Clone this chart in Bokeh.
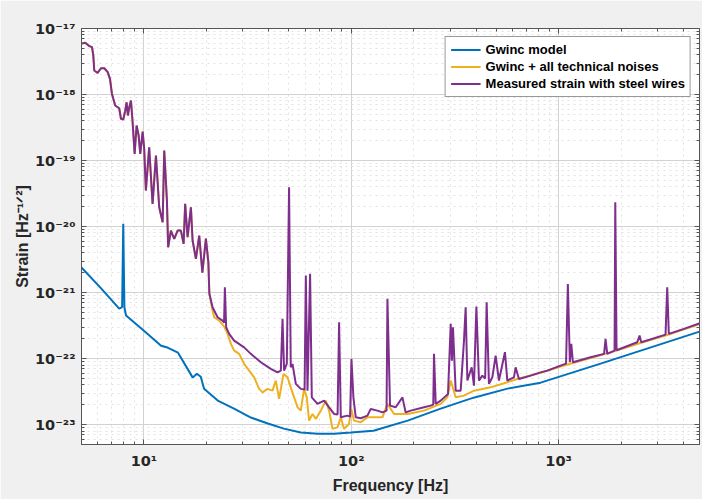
from bokeh.plotting import figure
from bokeh.models import (LogAxis, FixedTicker, CustomJSTickFormatter, Legend,
                          LegendItem, Range1d)
from bokeh.embed import file_html
from bokeh.resources import INLINE

# ---------------- data ----------------
blue_f = [5.0, 6.2, 7.6, 7.85, 7.95, 8.05, 8.2, 10.0, 12.1, 13.0, 14.6, 17.2, 18.0,
          18.8, 19.5, 22.7, 27.2, 32.8, 39.6, 47.3, 57.1, 69, 82.5, 99.5, 128, 187,
          270, 389, 567, 819, 1594, 4780]
blue_h = [2.4e-21, 1.17e-21, 5.7e-22, 6.0e-22, 1.1e-20, 6.0e-22, 4.5e-22, 2.65e-22,
          1.57e-22, 1.47e-22, 1.23e-22, 5.15e-23, 5.9e-23, 5.3e-23, 3.5e-23, 2.31e-23,
          1.75e-23, 1.28e-23, 1.04e-23, 8.7e-24, 7.6e-24, 7.3e-24, 7.3e-24, 7.6e-24,
          8.1e-24, 1.15e-23, 1.75e-23, 2.56e-23, 3.51e-23, 4.32e-23, 8.4e-23, 2.56e-22]

purple_f = [5.0, 5.21, 5.46, 5.62, 5.70, 5.76, 5.98, 6.21, 6.44, 6.69, 6.86, 7.01, 7.27,
            7.60, 7.75, 7.95, 8.13, 8.25, 8.37, 8.50, 8.66, 8.82, 9.02, 9.22, 9.43, 9.60,
            9.86, 10.03, 10.22, 10.60, 11.01, 11.43, 11.85, 12.31, 12.53, 12.91, 13.09,
            13.49, 14.00, 14.54, 15.08, 15.54, 15.81, 16.24, 16.85, 17.17, 17.81, 18.48,
            19.14, 19.90, 20.46, 20.68,
            21.43, 22.66, 23.95, 24.35, 24.57, 24.93, 25.77, 27.24, 30.43, 32.78, 36.63,
            40.93, 44.09, 45.74, 46.61, 47.44, 48.88, 50.12, 51.08, 52.06, 54.02, 57.10,
            59.55, 60.37, 61.51, 63.30, 64.51, 68.73, 73.94, 78.17, 82.63, 85.91, 87.36,
            89.00, 95.86, 98.7, 100.2, 102.4, 105.1, 111.1, 119.7, 124.1, 133.7, 141.4,
            148.0, 149.4, 153.8, 163.8, 176.5, 183.0, 193.5, 224.3, 241.5, 248.6, 250.6,
            255.4, 270.0, 292.8, 301.7, 305.7, 309.4, 318.8, 337.0, 349.6, 356.2, 363.1,
            380.8, 390.6, 401.2, 412.9, 428.7, 442.3, 449.7, 461.3, 479.0, 497.0, 515.5,
            550.9, 565.8, 608.8, 620.4, 643.5, 732.8, 818.8, 882.0, 1022, 1086, 1108,
            1133, 1151, 1172, 1426, 1657, 1684, 1716, 1861, 1876, 1903, 2394, 2457, 2503,
            3278, 3340, 3400, 4017, 4797]
purple_h = [5.9e-18, 6.07e-18, 5.40e-18, 5.21e-18, 3.90e-18, 2.31e-18, 2.13e-18, 2.50e-18,
            2.50e-18, 2.18e-18, 1.73e-18, 1.03e-18, 6.81e-19, 6.20e-19, 4.29e-19, 4.18e-19,
            5.73e-19, 7.64e-19, 4.81e-19, 6.43e-19, 8.11e-19, 3.80e-19, 1.26e-19, 3.39e-19,
            2.39e-19, 1.26e-19, 2.75e-19, 1.50e-19, 3.51e-20, 1.59e-19, 2.21e-20, 1.19e-19,
            1.96e-20, 1.16e-20, 1.42e-19, 2.48e-20, 4.85e-21, 8.69e-21, 6.52e-21, 8.69e-21,
            8.69e-21, 5.47e-21, 2.21e-20, 6.89e-21, 1.96e-20, 6.14e-21, 3.24e-21, 7.31e-21,
            2.01e-21, 6.58e-21, 2.85e-21, 9.66e-22,
            5.98e-22, 4.23e-22, 3.77e-22, 3.51e-22, 1.20e-21, 2.98e-22, 2.37e-22, 1.87e-22,
            1.48e-22, 1.18e-22, 8.80e-23, 6.98e-23, 6.19e-23, 6.58e-23, 4.00e-22, 6.58e-23,
            8.40e-23, 3.94e-20, 7.38e-23, 8.32e-23, 4.14e-23, 3.48e-23, 3.39e-23, 1.81e-21,
            3.27e-23, 1.92e-21, 2.59e-23, 2.06e-23, 2.31e-23, 1.83e-23, 1.45e-23, 1.42e-23,
            3.55e-22, 1.29e-23, 1.37e-23, 1.32e-23, 9.89e-23, 2.59e-23, 1.29e-23, 1.25e-23,
            1.37e-23, 1.73e-23, 1.63e-23, 1.53e-23, 1.63e-23, 8.04e-22, 1.94e-23, 1.83e-23,
            2.59e-23, 1.53e-23, 1.63e-23, 1.83e-23, 1.94e-23, 2.01e-23, 1.18e-22, 2.06e-23,
            2.31e-23, 2.92e-23, 3.36e-22, 9.33e-23, 2.98e-22, 3.27e-23, 3.27e-23, 1.87e-22,
            5.98e-22, 4.65e-23, 7.38e-23, 3.90e-23, 6.14e-22, 4.65e-23, 5.52e-23, 4.98e-23,
            7.13e-22, 4.14e-23, 5.21e-23, 1.11e-22, 4.65e-23, 1.25e-22, 4.65e-23, 5.21e-23,
            7.38e-23, 4.92e-23, 5.52e-23, 6.19e-23, 6.58e-23, 7.83e-23, 8.40e-23, 1.35e-21,
            8.80e-23, 1.67e-22, 8.80e-23, 1.05e-22, 1.18e-22, 1.99e-22, 1.18e-22, 1.32e-22,
            2.33e-20, 1.34e-22, 1.77e-22, 2.23e-22, 1.77e-22, 2.31e-22, 1.20e-21, 2.37e-22,
            2.82e-22, 3.43e-22]

# below ~20 Hz the technical-noise curve coincides with the measured one
n_low = 52
orange_f = purple_f[:n_low] + [
    21.43, 21.82, 23.07, 24.38, 25.32, 26.27, 27.24, 28.80, 30.43, 32.17, 34.01, 35.95,
    37.33, 39.46, 41.71, 43.26, 44.87, 47.12, 49.27, 51.08, 53.01, 55.06, 57.10, 59.22,
    61.02, 62.60, 65.01, 67.45, 71.29, 75.36, 78.17, 81.17, 85.80, 89.00, 92.32, 97.57,
    100.0, 103.1, 111.1, 119.7, 124.1, 141.4, 149.4, 160.8, 186.6, 224.3, 270.0, 290.8,
    301.7, 318.8, 349.6, 390.6, 470.0, 565.8, 632.3, 818.8, 1022, 1426, 1903, 2503,
    3400, 4797]
orange_h = purple_h[:n_low] + [
    5.33e-22, 4.23e-22, 3.77e-22, 3.05e-22, 2.37e-22, 1.67e-22, 1.32e-22, 1.18e-22,
    8.32e-23, 6.58e-23, 5.21e-23, 3.48e-23, 3.08e-23, 3.48e-23, 3.27e-23, 4.65e-23,
    2.45e-23, 5.86e-23, 5.21e-23, 3.67e-23, 2.59e-23, 1.83e-23, 1.63e-23, 3.48e-23,
    2.59e-23, 1.15e-23, 1.45e-23, 1.22e-23, 1.63e-23, 2.31e-23, 1.63e-23, 8.61e-24,
    9.1e-24, 1.29e-23, 8.61e-24, 1.03e-23, 1.73e-23, 1.15e-23, 1.09e-23, 1.29e-23,
    1.29e-23, 1.29e-23, 2.06e-23, 1.45e-23, 1.45e-23, 1.63e-23, 2.06e-23, 2.59e-23,
    4.65e-23, 2.59e-23, 2.75e-23, 3.27e-23, 3.67e-23, 4.38e-23, 4.92e-23, 6.1e-23,
    7.6e-23, 1.02e-22, 1.32e-22, 1.74e-22, 2.31e-22, 3.34e-22]

labels = ["Gwinc model", "Gwinc + all technical noises", "Measured strain with steel wires"]
colors = ["#0072BD", "#EDB120", "#7E2F8E"]

x_major = [10, 100, 1000]
y_major = [1e-23, 1e-22, 1e-21, 1e-20, 1e-19, 1e-18, 1e-17]

# ---------------- figure ----------------
FONT = "Liberation Sans"
TICKFONT = "DejaVu Sans"
AX = "#555555"
TXT = "#262626"

p = figure(width=702, height=499, x_axis_type="log", y_axis_type="log",
           x_range=Range1d(5, 4780), y_range=Range1d(5e-24, 1e-17),
           output_backend="svg", toolbar_location=None,
           background_fill_color="white", border_fill_color="#f0f0f0",
           min_border_left=81, min_border_right=3, min_border_top=28,
           min_border_bottom=55)
p.outline_line_color = AX

bottom = p.below[0]
left = p.left[0]

x_minor = [m * d for d in [1, 10, 100, 1000] for m in range(2, 10)]
y_minor = [m * d for d in [1e-24] + y_major[:-1] for m in range(2, 10)]
xt = FixedTicker(ticks=x_major, minor_ticks=x_minor)
yt = FixedTicker(ticks=y_major, minor_ticks=y_minor)

fmt_code = """
const sup = {'-':'\u207b','0':'\u2070','1':'\u00b9','2':'\u00b2','3':'\u00b3','4':'\u2074',
             '5':'\u2075','6':'\u2076','7':'\u2077','8':'\u2078','9':'\u2079'};
const e = Math.round(Math.log10(tick));
return '10' + String(e).split('').map(c => sup[c]).join('');
"""


def style(ax, ticker):
    ax.ticker = ticker
    ax.axis_line_color = AX
    ax.major_tick_line_color = AX
    ax.minor_tick_line_color = AX
    ax.major_tick_in = 5
    ax.major_tick_out = 0
    ax.minor_tick_in = 3
    ax.minor_tick_out = 0


style(bottom, xt)
style(left, yt)
for ax in (bottom, left):
    ax.formatter = CustomJSTickFormatter(code=fmt_code)
    ax.major_label_text_font = TICKFONT
    ax.major_label_text_font_style = "bold"
    ax.major_label_text_color = TXT
    ax.major_label_text_font_size = "14.5px"
bottom.major_label_standoff = 8
left.major_label_standoff = 6

# top / right box sides with inward ticks only (no labels)
top = LogAxis(major_label_text_color=None, major_label_standoff=0,
              major_label_text_font_size="1px")
right = LogAxis(major_label_text_color=None, major_label_standoff=0,
                major_label_text_font_size="1px")
style(top, xt)
style(right, yt)
p.add_layout(top, "above")
p.add_layout(right, "right")

bottom.axis_label = "Frequency [Hz]"
left.axis_label = "Strain [Hz\u207b\u00b9\u141f\u00b2]"
for ax in (bottom, left):
    ax.axis_label_text_font = FONT
    ax.axis_label_text_font_style = "bold"
    ax.axis_label_text_font_size = "16px"
    ax.axis_label_text_color = TXT
bottom.axis_label_standoff = 5
left.axis_label_standoff = 1

for g, t in ((p.xgrid[0], xt), (p.ygrid[0], yt)):
    g.ticker = t
    g.grid_line_color = "#d2d2d2"
    g.grid_line_width = 1
    g.minor_grid_line_color = "#e2e2e2"
    g.minor_grid_line_dash = "dotted"

r1 = p.line(blue_f, blue_h, line_color=colors[0], line_width=2)
r2 = p.line(orange_f, orange_h, line_color=colors[1], line_width=2)
r3 = p.line(purple_f, purple_h, line_color=colors[2], line_width=2)

legend = Legend(items=[LegendItem(label=labels[0], renderers=[r1]),
                       LegendItem(label=labels[1], renderers=[r2]),
                       LegendItem(label=labels[2], renderers=[r3])],
                location="top_right", margin=8, padding=5, spacing=2,
                glyph_width=30, glyph_height=15, label_height=15, label_standoff=5,
                label_text_font=FONT, label_text_font_style="bold",
                label_text_font_size="13px", label_text_color="black",
                border_line_color="#333333", border_line_width=1,
                background_fill_color="white", background_fill_alpha=1.0)
p.add_layout(legend)

open("out.html", "w").write(file_html(p, INLINE))
